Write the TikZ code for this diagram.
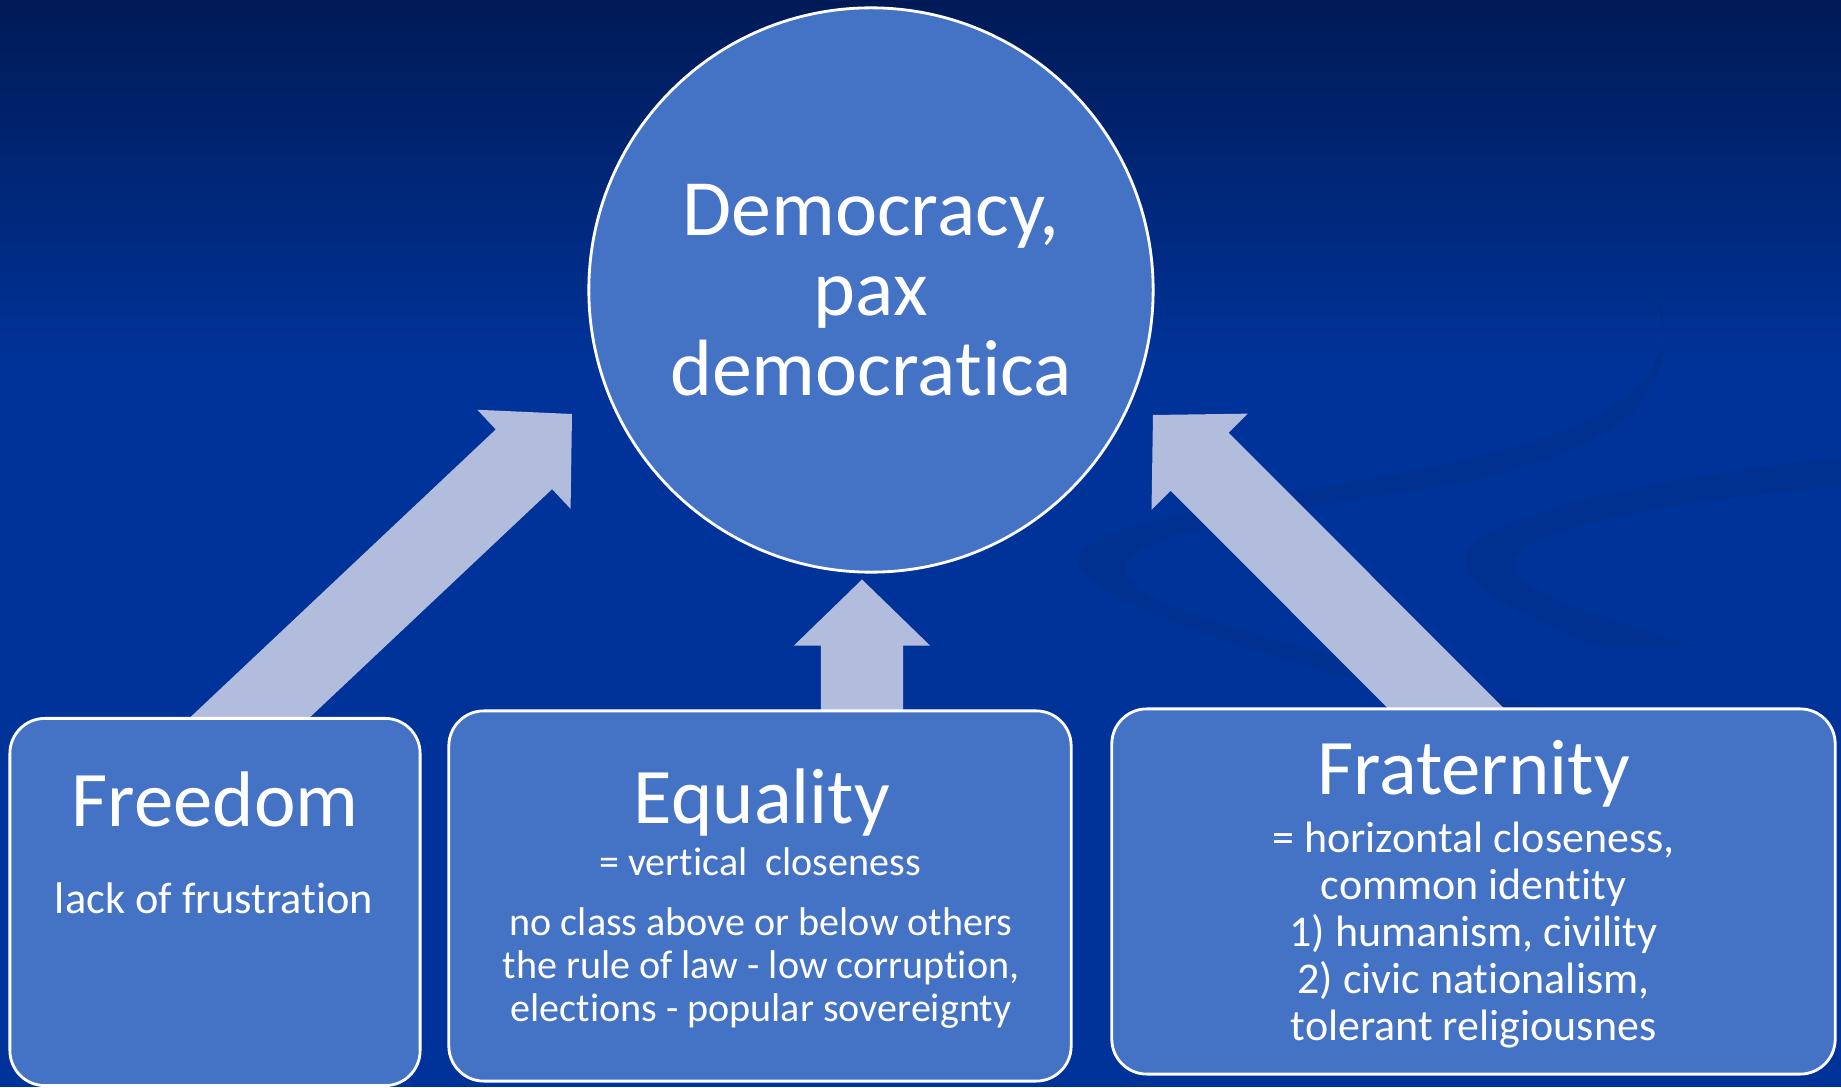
\documentclass[tikz,border=0pt]{standalone}
\usepackage{fontspec}
\setmainfont{Carlito}[Ligatures=NoCommon]
\usetikzlibrary{arrows.meta, positioning, calc, backgrounds}

\definecolor{bgtop}{RGB}{0,26,86}
\definecolor{bgblue}{RGB}{0,51,153}
\definecolor{boxblue}{RGB}{68,114,196}
\definecolor{arrowgray}{RGB}{178,189,221}

\begin{document}
\begin{tikzpicture}[x=0.01cm, y=0.01cm,
    hub/.style={circle, draw=white, fill=boxblue, line width=0.8pt, minimum size=5.64cm, align=center, text=white, font=\fontsize{22.7}{22.7}\selectfont},
    box/.style 2 args={rectangle, draw=white, fill=boxblue, line width=0.8pt, rounded corners=0.35cm, minimum width=#1, minimum height=#2},
    title/.style={anchor=base, inner sep=0pt, text=white, font=\fontsize{22.4}{26}\selectfont},
    sub/.style={anchor=base, inner sep=0pt, align=center, text=white},
    fat/.style={fill=arrowgray, to path={
        -- ($(\tikztostart)!0.41cm!90:(\tikztotarget)$)
        -- ($(\tikztotarget)!0.66cm!(\tikztostart)!0.41cm!90:(\tikztotarget)$)
        -- ($(\tikztotarget)!0.66cm!(\tikztostart)!0.68cm!90:(\tikztotarget)$)
        -- (\tikztotarget)
        -- ($(\tikztotarget)!0.66cm!(\tikztostart)!0.68cm!-90:(\tikztotarget)$)
        -- ($(\tikztotarget)!0.66cm!(\tikztostart)!0.41cm!-90:(\tikztotarget)$)
        -- ($(\tikztostart)!0.41cm!-90:(\tikztotarget)$) -- cycle}},
    swoosh/.style={fill=black, fill opacity=0.06}
  ]
  \useasboundingbox (0,0) rectangle (1841,1087);

  % goal and the three pillars
  \node[hub] (dem) at (871,797) {Democracy,\\pax\\democratica};
  \node[box={4.10cm}{3.67cm}] (frd) at (215,185) {};
  \node[box={6.22cm}{3.70cm}] (eql) at (760,191) {};
  \node[box={7.23cm}{3.65cm}] (frt) at (1473.5,195.5) {};

  \node[title] (frdt) at (215,261) {Freedom};
  \node[sub, font=\fontsize{12.6}{14}\selectfont] (frds) at (214,173) {lack of frustration};

  \node[title] (eqlt) at (762,263) {Equality};
  \node[sub, font=\fontsize{11.4}{12.1}\selectfont] (eqlv) at (760,211) {= vertical~~closeness};
  % base = last line
  \node[sub, font=\fontsize{11.4}{12.3}\selectfont] (eqls) at (761,65) {no class above or below others\\the rule of law - low corruption,\\elections - popular sovereignty};

  \node[title] (frtt) at (1473.5,292) {Fraternity};
  \node[sub, font=\fontsize{12.5}{13.4}\selectfont] (frts) at (1473.5,46.5) {= horizontal closeness,\\common identity\\1) humanism, civility\\2) civic nationalism,\\tolerant religiousnes};

  \begin{pgfonlayer}{background}
    \fill[bgblue] (0,0) rectangle (1841,1087);
    \shade[top color=bgtop, bottom color=bgblue] (0,1087) rectangle (1841,720);
    % swooshes
    \fill[swoosh] (1651,808) .. controls (1700,700) and (1600,650) .. (1380,610)
      .. controls (1200,580) and (1080,560) .. (1078,525)
      .. controls (1076,490) and (1250,430) .. (1500,370) -- (1580,370)
      .. controls (1300,440) and (1120,480) .. (1125,520)
      .. controls (1130,555) and (1300,580) .. (1450,602)
      .. controls (1640,640) and (1690,700) .. cycle;
    \fill[swoosh] (1841,630) .. controls (1650,610) and (1470,570) .. (1465,528)
      .. controls (1462,500) and (1520,470) .. (1600,440) -- (1700,440)
      .. controls (1560,480) and (1510,505) .. (1515,525)
      .. controls (1520,560) and (1700,590) .. (1841,600) -- cycle;
    % arrows
    \coordinate (t1) at ($(frd.north)+(-6,-39)$);
    \coordinate (t2) at ($(eql.north)+(102,-36)$);
    \coordinate (t3) at ($(frt.north)+(14.5,-43)$);
    \coordinate (p1) at ($(dem.center)+(-299,-124)$);
    \coordinate (p2) at ($(dem.center)+(-9,-289.5)$);
    \coordinate (p3) at ($(dem.center)+(282,-125)$);
    \path[fat] (t1) to (p1);
    \path[fat] (t2) to (p2);
    \path[fat] (t3) to (p3);
  \end{pgfonlayer}
\end{tikzpicture}
\end{document}
